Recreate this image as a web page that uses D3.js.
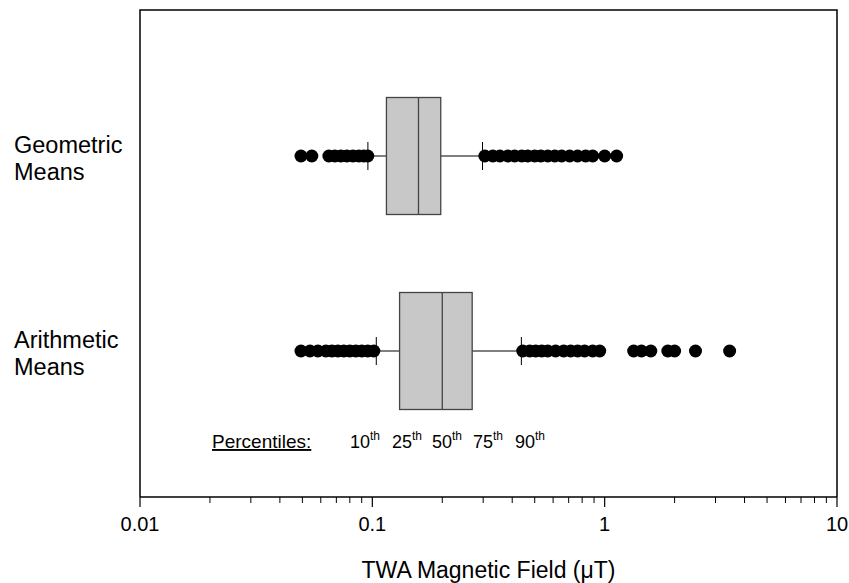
<!DOCTYPE html>
<html>
<head>
<meta charset="utf-8">
<script src="https://cdn.jsdelivr.net/npm/d3@7"></script>
<style>
  body { margin: 0; background: #fff; }
  text { font-family: "Liberation Sans", Arial, sans-serif; fill: #000; }
</style>
</head>
<body>
<svg id="chart" width="849" height="583"></svg>
<script>
// categories and box stats (values in uT)
const categories = ["Geometric Means", "Arithmetic Means"];
const boxStats = [
  { p10: 0.0957, p25: 0.115, p50: 0.158, p75: 0.197, p90: 0.298 },
  { p10: 0.104, p25: 0.131, p50: 0.200, p75: 0.269, p90: 0.438 }
];
const geoOutliers = [0.0493, 0.0549, 0.065, 0.069, 0.0732, 0.0777, 0.0825, 0.0875, 0.0919, 0.0956,
  0.305, 0.330, 0.354, 0.383, 0.410, 0.440, 0.467, 0.500, 0.531, 0.569, 0.610, 0.653, 0.707, 0.765, 0.828, 0.888, 1.0, 1.126];
const ariOutliers = [0.0493, 0.0539, 0.0583, 0.0631, 0.067, 0.0711, 0.0754, 0.080, 0.0849, 0.0901, 0.0956, 0.1015,
  0.444, 0.476, 0.505, 0.536, 0.569, 0.615, 0.666, 0.714, 0.765, 0.820, 0.888, 0.952,
  1.333, 1.44, 1.58, 1.87, 2.0, 2.46, 3.45];
const outliers = [geoOutliers, ariOutliers];
const tickValues = [0.01, 0.1, 1, 10];
const percentileLabels = ["10", "25", "50", "75", "90"];

const svg = d3.select("#chart");
const mLeft = 140, mRight = 837, mTop = 10, mBottom = 497;

const x = d3.scaleLog().domain([0.01, 10]).range([mLeft, mRight]);
const y = d3.scalePoint().domain(categories).range([156, 351]);
const boxH = 117;

// frame (left, top, right)
svg.append("path")
  .attr("d", `M${mLeft},${mBottom}V${mTop}H${mRight}V${mBottom}`)
  .attr("fill", "none")
  .attr("stroke", "#000")
  .attr("stroke-width", 1.5);

// x axis
const minor = [];
for (let d = 0.01; d < 10; d *= 10) {
  for (let m = 2; m <= 9; m++) minor.push(+(d * m).toPrecision(3));
}
const gx = svg.append("g").attr("transform", `translate(0,${mBottom})`);
gx.append("line").attr("x1", mLeft).attr("x2", mRight).attr("stroke", "#000").attr("stroke-width", 1.5);
gx.selectAll(".minor").data(minor).join("line")
  .attr("x1", d => x(d)).attr("x2", d => x(d))
  .attr("y1", 0).attr("y2", 6)
  .attr("stroke", "#000");
gx.selectAll(".major").data(tickValues).join("line")
  .attr("x1", d => x(d)).attr("x2", d => x(d))
  .attr("y1", 0).attr("y2", 10)
  .attr("stroke", "#000").attr("stroke-width", 1.2);
gx.selectAll(".lbl").data(tickValues).join("text")
  .attr("x", d => x(d)).attr("y", 34)
  .attr("text-anchor", "middle")
  .style("font-size", "20px")
  .text(d => d3.format("~g")(d));

svg.append("text")
  .attr("x", (mLeft + mRight) / 2).attr("y", 578)
  .attr("text-anchor", "middle")
  .style("font-size", "23px")
  .text("TWA Magnetic Field (\u03bcT)");

// category labels
categories.forEach(c => {
  const parts = c.split(" ");
  svg.append("text")
    .attr("x", 14).attr("y", y(c) - 3)
    .style("font-size", "23.5px")
    .selectAll("tspan").data(parts).join("tspan")
    .attr("x", 14).attr("dy", (d, i) => i ? 27 : 0)
    .text(d => d);
});

// boxes
categories.forEach((c, i) => {
  const s = boxStats[i];
  const cy = y(c);
  const g = svg.append("g");
  // whiskers
  g.append("line").attr("x1", x(s.p10)).attr("x2", x(s.p25)).attr("y1", cy).attr("y2", cy).attr("stroke", "#000");
  g.append("line").attr("x1", x(s.p75)).attr("x2", x(s.p90)).attr("y1", cy).attr("y2", cy).attr("stroke", "#000");
  g.append("line").attr("x1", x(s.p10)).attr("x2", x(s.p10)).attr("y1", cy - 14).attr("y2", cy + 14).attr("stroke", "#000");
  g.append("line").attr("x1", x(s.p90)).attr("x2", x(s.p90)).attr("y1", cy - 14).attr("y2", cy + 14).attr("stroke", "#000");
  // outliers
  g.selectAll("circle").data(outliers[i]).join("circle")
    .attr("cx", d => x(d)).attr("cy", cy).attr("r", 6.5)
    .attr("fill", "#000");
  // box
  g.append("rect")
    .attr("x", x(s.p25)).attr("y", cy - boxH / 2)
    .attr("width", x(s.p75) - x(s.p25)).attr("height", boxH)
    .attr("fill", "#c8c8c8").attr("stroke", "#444").attr("stroke-width", 1.3);
  g.append("line").attr("x1", x(s.p50)).attr("x2", x(s.p50))
    .attr("y1", cy - boxH / 2).attr("y2", cy + boxH / 2)
    .attr("stroke", "#444").attr("stroke-width", 1.3);
});

// percentile legend
svg.append("text").attr("x", 212).attr("y", 448)
  .style("font-size", "19px")
  .style("text-decoration", "underline")
  .text("Percentiles:");
const pl = svg.append("g").selectAll("text").data(percentileLabels).join("text")
  .attr("x", (d, i) => [350, 392, 432, 473, 515][i]).attr("y", 448)
  .style("font-size", "18px");
pl.append("tspan").text(d => d);
pl.append("tspan").attr("dy", -8).style("font-size", "12px").text("th");
</script>
</body>
</html>
